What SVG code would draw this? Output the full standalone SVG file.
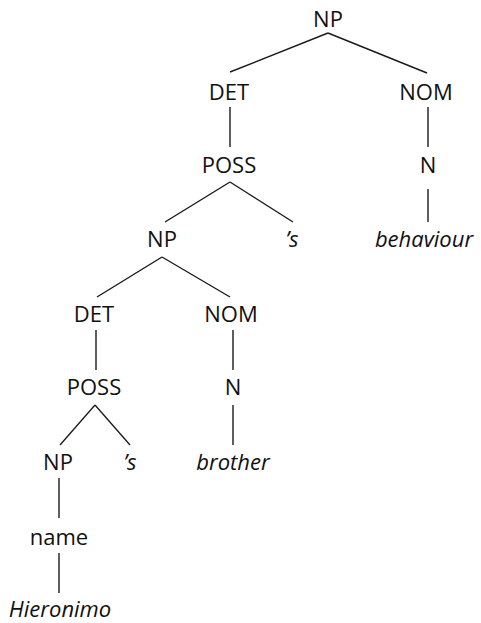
<svg xmlns="http://www.w3.org/2000/svg" width="481" height="623" viewBox="0 0 481 623">
<style>
text{font-family:"Open Sans","Noto Sans","DejaVu Sans",sans-serif;font-size:22px;fill:#111;text-anchor:middle}
.it{font-style:italic}
#edges line{stroke:#1a1a1a;stroke-width:1.4}
</style>
<rect width="481" height="623" fill="#fff"/>
<g id="edges">
<line x1="328" y1="33" x2="230" y2="72"/>
<line x1="328" y1="33" x2="427" y2="73"/>
<line x1="230" y1="107" x2="230" y2="147"/>
<line x1="428" y1="107" x2="428" y2="147"/>
<line x1="230" y1="182" x2="165" y2="222"/>
<line x1="230" y1="182" x2="293" y2="222"/>
<line x1="428" y1="189" x2="428" y2="222"/>
<line x1="162" y1="257" x2="97" y2="297"/>
<line x1="162" y1="257" x2="230" y2="297"/>
<line x1="96" y1="330" x2="96" y2="370"/>
<line x1="233" y1="330" x2="233" y2="370"/>
<line x1="95" y1="405" x2="60" y2="445"/>
<line x1="95" y1="405" x2="130" y2="445"/>
<line x1="233" y1="405" x2="233" y2="445"/>
<line x1="59" y1="478" x2="59" y2="518"/>
<line x1="59" y1="553" x2="59" y2="593"/>
</g>
<g id="np1"><text x="328" y="27">NP</text></g>
<g id="det1"><text x="229" y="100">DET</text></g>
<g id="nom1"><text x="426" y="100">NOM</text></g>
<g id="poss1"><text x="229" y="173">POSS</text></g>
<g id="n1"><text x="428" y="173">N</text></g>
<g id="np2"><text x="162" y="247">NP</text></g>
<g id="s1"><text class="it" x="292" y="247">’s</text></g>
<g id="behaviour"><text class="it" x="424" y="247">behaviour</text></g>
<g id="det2"><text x="94" y="322">DET</text></g>
<g id="nom2"><text x="231" y="322">NOM</text></g>
<g id="poss2"><text x="94" y="395">POSS</text></g>
<g id="n2"><text x="233" y="395">N</text></g>
<g id="np3"><text x="58" y="470">NP</text></g>
<g id="s2"><text class="it" x="130" y="470">’s</text></g>
<g id="brother"><text class="it" x="233" y="470">brother</text></g>
<g id="name"><text x="59" y="545">name</text></g>
<g id="hieronimo"><text class="it" x="60" y="617">Hieronimo</text></g>
</svg>
